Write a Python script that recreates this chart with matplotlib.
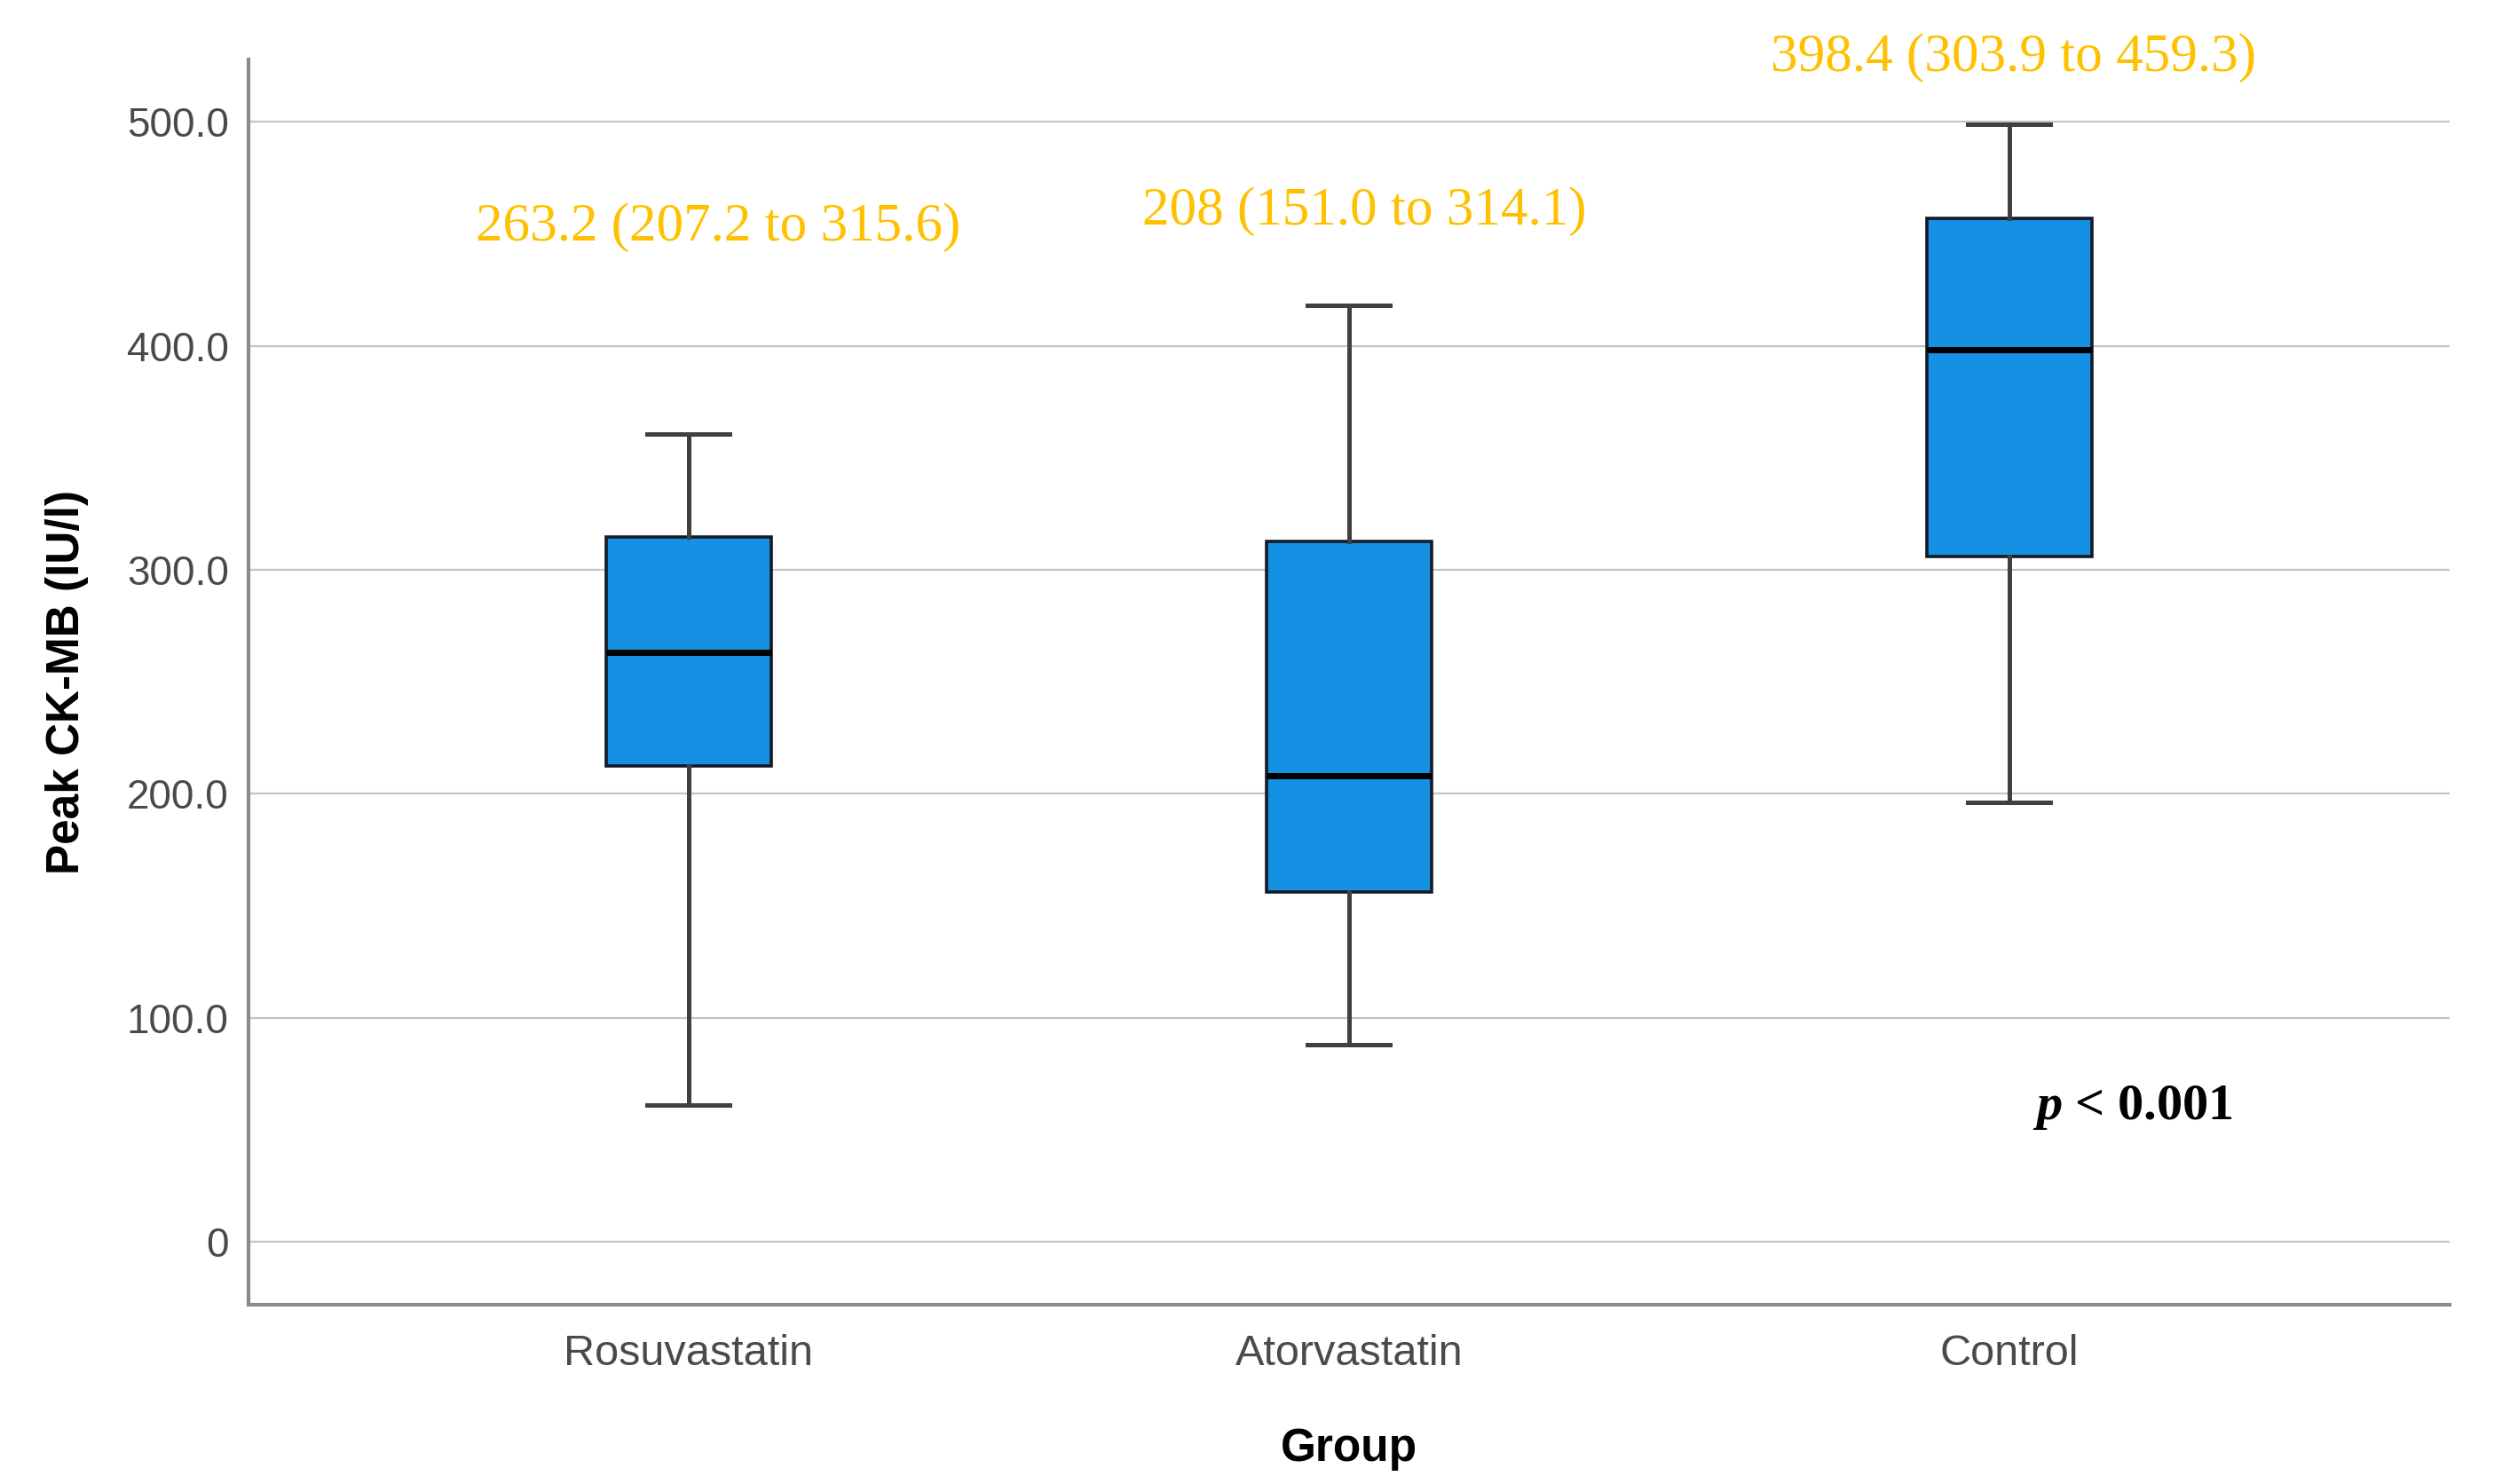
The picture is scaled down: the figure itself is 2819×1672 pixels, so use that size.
import matplotlib
matplotlib.use("Agg")
import matplotlib.pyplot as plt

# ---- data ----
groups = ["Rosuvastatin", "Atorvastatin", "Control"]
whisker_low = [61.0, 88.0, 196.0]
q1 = [212.5, 156.0, 306.0]
median = [263.2, 208.0, 398.4]
q3 = [314.5, 312.5, 457.0]
whisker_high = [360.5, 418.0, 499.0]
annotations = ["263.2 (207.2 to 315.6)", "208 (151.0 to 314.1)", "398.4 (303.9 to 459.3)"]
annot_x = [1.045, 2.024, 3.007]
annot_y = [453.0, 460.0, 528.5]
yticks = [0, 100, 200, 300, 400, 500]
ytick_labels = ["0", "100.0", "200.0", "300.0", "400.0", "500.0"]
p_text = "$p$ < 0.001"

plt.rcParams["mathtext.fontset"] = "custom"
plt.rcParams["mathtext.it"] = "Liberation Serif:italic:bold"
plt.rcParams["mathtext.rm"] = "Liberation Serif:bold"

fig = plt.figure(figsize=(28.19, 16.72), dpi=100)
ax = fig.add_axes([0.0993, 0.1209, 0.8796, 0.8393])

positions = list(range(1, len(groups) + 1))
stats = []
for g, lo, a, m, b, hi in zip(groups, whisker_low, q1, median, q3, whisker_high):
    stats.append(dict(label=g, whislo=lo, q1=a, med=m, q3=b, whishi=hi, fliers=[]))

ax.bxp(stats, positions=positions, widths=0.25, patch_artist=True, showfliers=False,
       boxprops=dict(facecolor="#1690E2", edgecolor="#141a26", linewidth=2.6),
       medianprops=dict(color="black", linewidth=5.0),
       whiskerprops=dict(color="#404040", linewidth=3.6),
       capprops=dict(color="#404040", linewidth=3.6),
       capwidths=0.125, zorder=3)

ax.set_xlim(1/3, 11/3)
ax.set_ylim(-28, 528)
ax.set_yticks(yticks)
ax.set_yticklabels(ytick_labels)
ax.set_xticks(positions)
ax.set_xticklabels(groups)
ax.yaxis.grid(True, color="#c4c4c4", linewidth=1.6, zorder=0)
ax.set_axisbelow(True)
ax.tick_params(axis="both", length=0, colors="#555555")
ax.tick_params(axis="y", labelsize=33, pad=16)
ax.tick_params(axis="x", labelsize=35, pad=24)
for lab in ax.get_yticklabels() + ax.get_xticklabels():
    lab.set_family(["Liberation Sans", "DejaVu Sans"])
    lab.set_color("#4a4a4a")

for s in ["top", "right"]:
    ax.spines[s].set_visible(False)
for s in ["left", "bottom"]:
    ax.spines[s].set_color("#8a8a8a")
    ax.spines[s].set_linewidth(3)

ax.set_ylabel("Peak CK-MB (IU/l)", fontsize=37, fontweight="bold",
              family=["Liberation Sans", "DejaVu Sans"], labelpad=31)
ax.set_xlabel("Group", fontsize=37, fontweight="bold",
              family=["Liberation Sans", "DejaVu Sans"], labelpad=43)

for t, x, y in zip(annotations, annot_x, annot_y):
    ax.text(x, y, t, ha="center", va="center", color="#FFC000", fontsize=44,
            family=["Liberation Serif", "DejaVu Serif"], clip_on=False)

ax.text(3.187, 60, p_text, ha="center", va="center", color="black", fontsize=42,
        fontweight="bold", family=["Liberation Serif", "DejaVu Serif"])

fig.savefig("out.png", dpi=100, facecolor="white")
